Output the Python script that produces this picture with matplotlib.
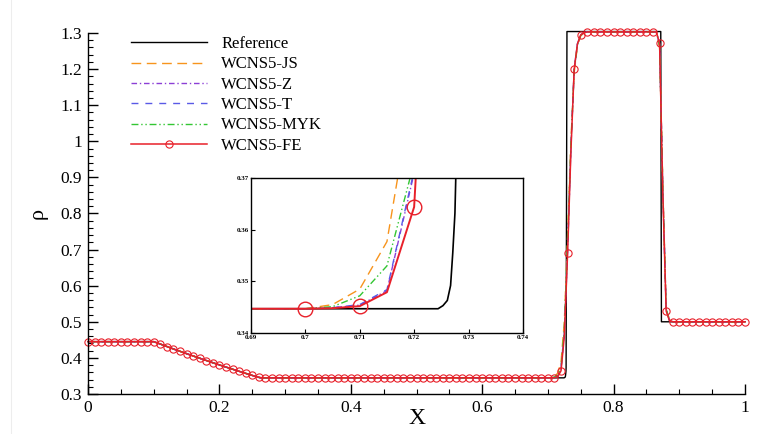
import numpy as np
import matplotlib.pyplot as plt
from matplotlib.lines import Line2D

plt.rcParams['font.family'] = ['Liberation Serif', 'DejaVu Serif']

# ---- numerical grid (dx = 0.005), FE markers every other node ----
x_num = np.round(np.arange(201) * 0.005, 3)

rho_left = [0.445] * 21                      # x = 0.000 .. 0.100
rho_fan = [0.4418, 0.4384, 0.4349, 0.4314, 0.4281, 0.4247, 0.4214, 0.4182,
           0.4149, 0.4117, 0.4085, 0.4053, 0.4021, 0.3989, 0.3958, 0.3927,
           0.3896, 0.3865, 0.3835, 0.3805, 0.3775, 0.3745, 0.3716, 0.3686,
           0.3657, 0.3628, 0.3599, 0.3570, 0.3542, 0.3514, 0.3487, 0.3462]  # x = 0.105 .. 0.260
rho_mid = [0.3447] * 88                      # x = 0.265 .. 0.700
rho_top = [1.303] * 21                       # x = 0.765 .. 0.865
rho_right = [0.5] * 23                       # x = 0.890 .. 1.000

# contact region, x = 0.705 .. 0.760
js_contact = [0.3455, 0.3485, 0.3577, 0.389, 0.50, 0.74, 1.00, 1.19, 1.265, 1.292, 1.300, 1.303]
z_contact = [0.3449, 0.3454, 0.3482, 0.371, 0.47, 0.70, 0.98, 1.20, 1.270, 1.295, 1.301, 1.303]
t_contact = [0.3449, 0.3455, 0.3484, 0.3715, 0.47, 0.70, 0.98, 1.20, 1.270, 1.295, 1.301, 1.303]
myk_contact = [0.3451, 0.3472, 0.3530, 0.373, 0.48, 0.72, 0.99, 1.195, 1.268, 1.294, 1.300, 1.303]
fe_contact = [0.3448, 0.3452, 0.3479, 0.3644, 0.46, 0.69, 0.97, 1.20, 1.270, 1.295, 1.301, 1.303]

# shock region, x = 0.870 .. 0.885
js_shock = [1.260, 0.87, 0.540, 0.505]
z_shock = [1.270, 0.86, 0.535, 0.504]
t_shock = [1.270, 0.86, 0.535, 0.504]
myk_shock = [1.265, 0.865, 0.537, 0.504]
fe_shock = [1.272, 0.85, 0.530, 0.503]

# ---- exact solution ----
x_ref = [0.0, 0.10, 0.11, 0.12, 0.13, 0.14, 0.15, 0.16, 0.17, 0.18, 0.19, 0.20,
         0.21, 0.22, 0.23, 0.24, 0.25, 0.262, 0.7244, 0.7253, 0.7261, 0.7267,
         0.7271, 0.7275, 0.7277, 0.7290, 0.8718, 0.8728, 1.0]
rho_ref = [0.445, 0.445, 0.4382, 0.4314, 0.4247, 0.4182, 0.4117, 0.4053, 0.3989,
           0.3927, 0.3865, 0.3805, 0.3745, 0.3686, 0.3628, 0.3570, 0.3514, 0.3447,
           0.3447, 0.3453, 0.3463, 0.3492, 0.3555, 0.3632, 0.372, 1.304, 1.304,
           0.5, 0.5]


def profile(contact, shock):
    return np.array(rho_left + rho_fan + rho_mid + contact + rho_top + shock + rho_right)


schemes = [
    ('WCNS5-JS', profile(js_contact, js_shock), '#f7941d', (0, (7, 4))),
    ('WCNS5-Z', profile(z_contact, z_shock), '#8c3fd6', (0, (4, 2, 1, 2))),
    ('WCNS5-T', profile(t_contact, t_shock), '#5a5ae6', (0, (5, 5))),
    ('WCNS5-MYK', profile(myk_contact, myk_shock), '#33c633', (0, (5, 2, 1, 2, 1, 2))),
]
rho_fe = profile(fe_contact, fe_shock)

fig = plt.figure(figsize=(7.77, 4.34), dpi=100)
fig.add_artist(Line2D([0.014, 0.014], [0.0, 1.0], color='#ededed', lw=0.8))

ax = fig.add_axes([0.1133, 0.0922, 0.8455, 0.8318])
ax.plot(x_ref, rho_ref, color='k', lw=1.0, label='Reference', clip_on=False)
for name, rho, col, ls in schemes:
    ax.plot(x_num, rho, color=col, ls=ls, lw=1.0, label=name, clip_on=False)
ax.plot(x_num, rho_fe, color='#e8202a', lw=1.1, marker='o', markevery=2,
        markersize=5.2, markerfacecolor='none', markeredgewidth=0.8,
        label='WCNS5-FE', clip_on=False)

ax.set_xlim(0, 1)
ax.set_ylim(0.3, 1.3)
ax.set_xticks([0, 0.2, 0.4, 0.6, 0.8, 1.0], labels=['0', '0.2', '0.4', '0.6', '0.8', '1'])
ax.set_xticks(np.round(np.arange(0, 1.0001, 0.05), 2), minor=True)
ax.set_yticks(np.round(np.arange(0.3, 1.3001, 0.1), 1),
              labels=['0.3', '0.4', '0.5', '0.6', '0.7', '0.8', '0.9', '1', '1.1', '1.2', '1.3'])
ax.set_yticks(np.round(np.arange(0.3, 1.3001, 0.02), 2), minor=True)
ax.tick_params(which='major', direction='in', length=7, width=1.0, labelsize=12.5, pad=4.5)
ax.tick_params(which='minor', direction='in', length=3.5, width=0.8)
for s in ['top', 'right']:
    ax.spines[s].set_visible(False)
for s in ['left', 'bottom']:
    ax.spines[s].set_linewidth(1.0)

ax.set_xlabel('X', fontsize=17, labelpad=-6)
ax.set_ylabel('ρ', fontsize=16, labelpad=9)

ax.legend(loc='upper left', bbox_to_anchor=(0.168, 0.917), bbox_transform=fig.transFigure,
          frameon=False, fontsize=12, handlelength=4.6, handletextpad=0.85,
          labelspacing=0.26, borderpad=0, borderaxespad=0)

# ---- zoom on the foot of the contact ----
axi = fig.add_axes([0.323, 0.2327, 0.350, 0.357])
axi.plot(x_ref, rho_ref, color='k', lw=1.2)
for name, rho, col, ls in schemes:
    axi.plot(x_num, rho, color=col, ls=ls, lw=1.0)
axi.plot(x_num, rho_fe, color='#e8202a', lw=1.4, marker='o', markevery=(140, 2),
         markersize=10.5, markerfacecolor='none', markeredgewidth=1.0)
axi.set_xlim(0.69, 0.74)
axi.set_ylim(0.34, 0.37)
axi.set_xticks([0.69, 0.70, 0.71, 0.72, 0.73, 0.74],
               labels=['0.69', '0.7', '0.71', '0.72', '0.73', '0.74'])
axi.set_yticks([0.34, 0.35, 0.36, 0.37], labels=['0.34', '0.35', '0.36', '0.37'])
axi.tick_params(direction='in', length=3, width=0.8, labelsize=5, pad=1.5)
for lab in axi.get_xticklabels() + axi.get_yticklabels():
    lab.set_fontweight('bold')
for s in axi.spines.values():
    s.set_linewidth(1.0)

fig.savefig('out.png', dpi=100)
